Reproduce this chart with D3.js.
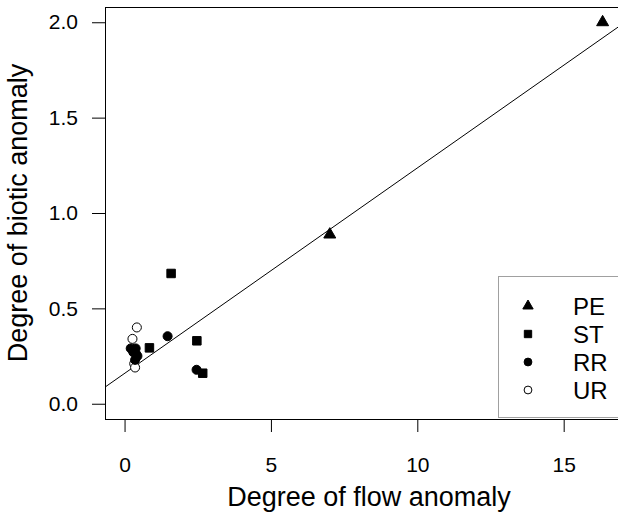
<!DOCTYPE html>
<html>
<head>
<meta charset="utf-8">
<script src="https://cdn.jsdelivr.net/npm/d3@7"></script>
<style>
  html, body { margin: 0; padding: 0; background: #fff; }
  svg { display: block; font-family: "Liberation Sans", Arial, sans-serif; }
</style>
</head>
<body>
<svg id="chart" width="618" height="518"></svg>
<script>
// ---- data ----
const groups = ["PE", "ST", "RR", "UR"];
const peX = [7.01, 16.33];
const peY = [0.887, 2.0];
const stX = [0.85, 1.59, 2.47, 2.67];
const stY = [0.293, 0.683, 0.33, 0.16];
const rrX = [0.21, 0.38, 0.30, 0.44, 0.36, 0.40, 1.47, 2.46];
const rrY = [0.29, 0.29, 0.27, 0.25, 0.23, 0.26, 0.354, 0.178];
const urX = [0.42, 0.27, 0.33, 0.36, 0.31];
const urY = [0.40, 0.34, 0.21, 0.19, 0.28];
const xTicks = [0, 5, 10, 15];
const yTicks = [0.0, 0.5, 1.0, 1.5, 2.0];
const fitIntercept = 0.159;
const fitSlope = 0.1077;
const xLimits = [0, 16.7];
const yLimits = [0, 2.0];

// ---- layout ----
const FONT = "Liberation Sans, Arial, sans-serif";
const svg = d3.select("#chart");
const plot = { left: 105, top: 7, right: 633, bottom: 419 };
const pad = (lim) => { const r = lim[1] - lim[0]; return [lim[0] - 0.04 * r, lim[1] + 0.04 * r]; };
const x = d3.scaleLinear().domain(pad(xLimits)).range([plot.left, plot.right]);
const y = d3.scaleLinear().domain(pad(yLimits)).range([plot.bottom, plot.top]);

svg.append("clipPath").attr("id", "clip")
  .append("rect").attr("x", plot.left).attr("y", plot.top)
  .attr("width", plot.right - plot.left).attr("height", plot.bottom - plot.top);

// frame
svg.append("rect")
  .attr("x", plot.left + 0.5).attr("y", plot.top + 0.5)
  .attr("width", plot.right - plot.left).attr("height", plot.bottom - plot.top)
  .attr("fill", "none").attr("stroke", "#000").attr("stroke-width", 1);

// axes
const xAxis = d3.axisBottom(x).tickValues(xTicks).tickSize(13).tickPadding(25).tickFormat(d3.format("d"));
const gx = svg.append("g").attr("transform", `translate(0,${plot.bottom})`).call(xAxis);
gx.select(".domain").remove();
gx.selectAll("text").attr("font-size", 21).attr("fill", "#000").attr("font-family", FONT);
gx.selectAll("line").attr("stroke", "#000");

const yAxis = d3.axisLeft(y).tickValues(yTicks).tickSize(13).tickPadding(14).tickFormat(d3.format(".1f"));
const gy = svg.append("g").attr("transform", `translate(${plot.left},0)`).call(yAxis);
gy.select(".domain").remove();
gy.selectAll("text").attr("font-size", 21).attr("fill", "#000").attr("font-family", FONT);
gy.selectAll("line").attr("stroke", "#000");

// axis titles
svg.append("text").attr("x", (plot.left + plot.right) / 2).attr("y", 506)
  .attr("text-anchor", "middle").attr("font-size", 27).attr("font-family", FONT)
  .text("Degree of flow anomaly");
svg.append("text").attr("transform", `translate(27,${(plot.top + plot.bottom) / 2}) rotate(-90)`)
  .attr("text-anchor", "middle").attr("font-size", 27).attr("font-family", FONT)
  .text("Degree of biotic anomaly");

// regression line
const xd = x.domain();
svg.append("line").attr("clip-path", "url(#clip)")
  .attr("x1", x(xd[0])).attr("y1", y(fitIntercept + fitSlope * xd[0]))
  .attr("x2", x(xd[1])).attr("y2", y(fitIntercept + fitSlope * xd[1]))
  .attr("stroke", "#000").attr("stroke-width", 1);

// symbols
const sym = {
  PE: { type: d3.symbolTriangle, size: 62, fill: "#000" },
  ST: { type: d3.symbolSquare, size: 72, fill: "#000" },
  RR: { type: d3.symbolCircle, size: 64, fill: "#000" },
  UR: { type: d3.symbolCircle, size: 64, fill: "#fff" }
};
const series = [
  { g: "UR", xs: urX, ys: urY },
  { g: "RR", xs: rrX, ys: rrY },
  { g: "ST", xs: stX, ys: stY },
  { g: "PE", xs: peX, ys: peY }
];
const pts = svg.append("g").attr("clip-path", "url(#clip)");
series.forEach(s => {
  const st = sym[s.g];
  pts.selectAll(null).data(s.xs.map((v, i) => [v, s.ys[i]])).enter()
    .append("path")
    .attr("d", d3.symbol().type(st.type).size(st.size))
    .attr("transform", d => `translate(${x(d[0])},${y(d[1])})`)
    .attr("fill", st.fill).attr("stroke", "#000").attr("stroke-width", 1);
});

// legend
const lg = svg.append("g");
lg.append("rect").attr("x", 498.5).attr("y", 276.5).attr("width", 140).attr("height", 141)
  .attr("fill", "#fff").attr("stroke", "#a0a0a0").attr("stroke-width", 1);
groups.forEach((g, i) => {
  const cy = 306 + i * 28;
  const st = sym[g];
  lg.append("path")
    .attr("d", d3.symbol().type(st.type).size(st.size * 0.75))
    .attr("transform", `translate(528,${cy})`)
    .attr("fill", st.fill).attr("stroke", "#000").attr("stroke-width", 1);
  lg.append("text").attr("x", 573).attr("y", cy).attr("dy", "0.36em")
    .attr("font-size", 24).attr("font-family", FONT).text(g);
});
</script>
</body>
</html>
